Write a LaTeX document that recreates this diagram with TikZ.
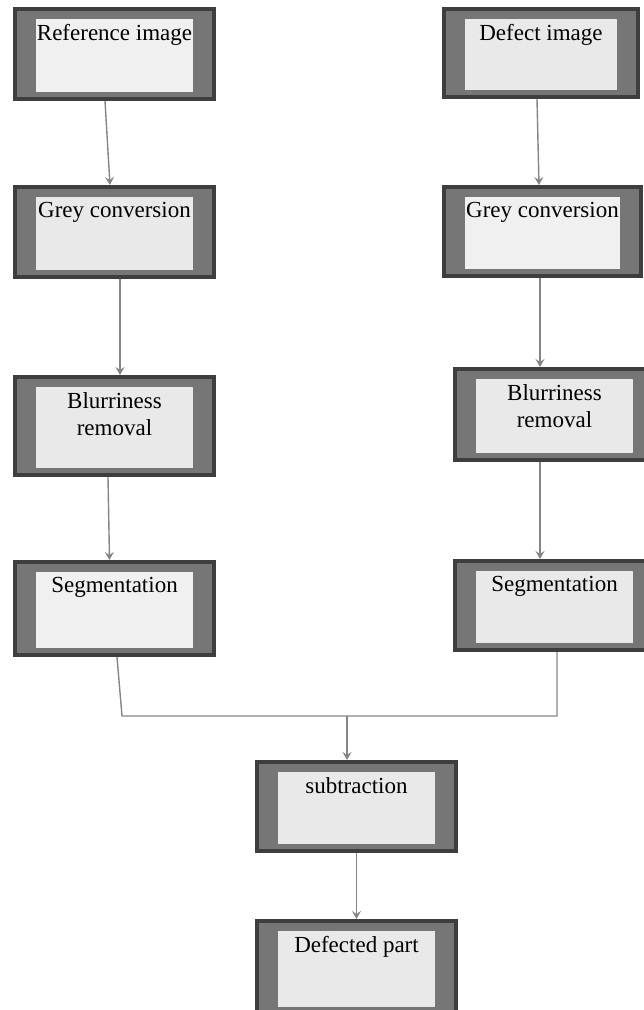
\documentclass[tikz,border=0pt]{standalone}
\usepackage{fontspec}
\setmainfont{Liberation Serif}
\usetikzlibrary{calc,arrows.meta}
\definecolor{framefill}{HTML}{767676}
\definecolor{framedraw}{HTML}{3E3E3E}
\definecolor{innerA}{HTML}{F0F0F0}
\definecolor{innerB}{HTML}{E9E9E9}
\definecolor{linkgray}{HTML}{858585}
\tikzset{
  frame/.style={draw=framedraw, fill=framefill, line width=4pt, rectangle, inner sep=0pt},
  lbl/.style={anchor=north, inner sep=0pt, align=center, font=\fontsize{23}{27}\selectfont},
  link/.style={draw=linkgray, line width=1.4pt},
  arr/.style={link, -{Stealth[length=8pt,width=9pt,inset=3pt]}}
}
\newcommand\procbox[7]{%
  \node[frame, minimum width=#4pt-4pt, minimum height=#5pt-4pt] (#1) at (#2,#3) {};
  \fill[#6] ($(#1.north west)+(23,11.5)$) rectangle ($(#1.south east)+(-23,-9)$);
  \node[lbl] (#1-t) at ($(#1.north)+(0,17.5)$) {#7};
}
\begin{document}
\begin{tikzpicture}[x=1pt,y=-1pt]
\useasboundingbox (0,0) rectangle (644,1010);
\clip (0,0) rectangle (644,1010);
% left column
\procbox{refimg}{114.5}{54}{203}{94}{innerA}{Reference image}
\procbox{greyL}{114.5}{232}{203}{94}{innerB}{Grey conversion}
\procbox{blurL}{114.5}{426}{203}{102}{innerB}{Blurriness\\removal}
\procbox{segL}{114.5}{608.5}{203}{97}{innerA}{Segmentation}
% right column
\procbox{defimg}{541}{53}{198}{92}{innerB}{Defect image}
\procbox{greyR}{542.5}{231.5}{201}{93}{innerA}{Grey conversion}
\procbox{blurR}{554.5}{414.5}{203}{95}{innerB}{Blurriness\\removal}
\procbox{segR}{554.5}{605.5}{203}{93}{innerB}{Segmentation}
% centre
\procbox{sub}{356.5}{806.5}{203}{93}{innerB}{subtraction}
\procbox{defp}{356.5}{967.5}{203}{97}{innerB}{Defected part}
% connectors
\draw[arr] ($(refimg.south)+(-9.5,0)$) -- ($(greyL.north)+(-4.5,0)$);
\draw[arr] ($(greyL.south)+(5.5,0)$) -- ($(blurL.north)+(5.5,0)$);
\draw[arr] ($(blurL.south)+(-6.5,0)$) -- ($(segL.north)+(-5,0)$);
\draw[arr] ($(defimg.south)+(-4,0)$) -- ($(greyR.north)+(-3.5,0)$);
\draw[arr] ($(greyR.south)+(-2.5,0)$) -- ($(blurR.north)+(-14.5,0)$);
\draw[arr] ($(blurR.south)+(-14.5,0)$) -- ($(segR.north)+(-14.5,0)$);
\coordinate (lcorner) at (122,716);
\coordinate (join) at (347,716);
\coordinate (rcorner) at (557,716);
\draw[link] ($(segL.south)+(2.5,0)$) -- (lcorner) -- (rcorner) -- ($(segR.south)+(2.5,0)$);
\draw[arr] (join) -- ($(sub.north)+(-9.5,0)$);
\draw[arr] (sub.south) -- (defp.north);
\end{tikzpicture}
\end{document}
